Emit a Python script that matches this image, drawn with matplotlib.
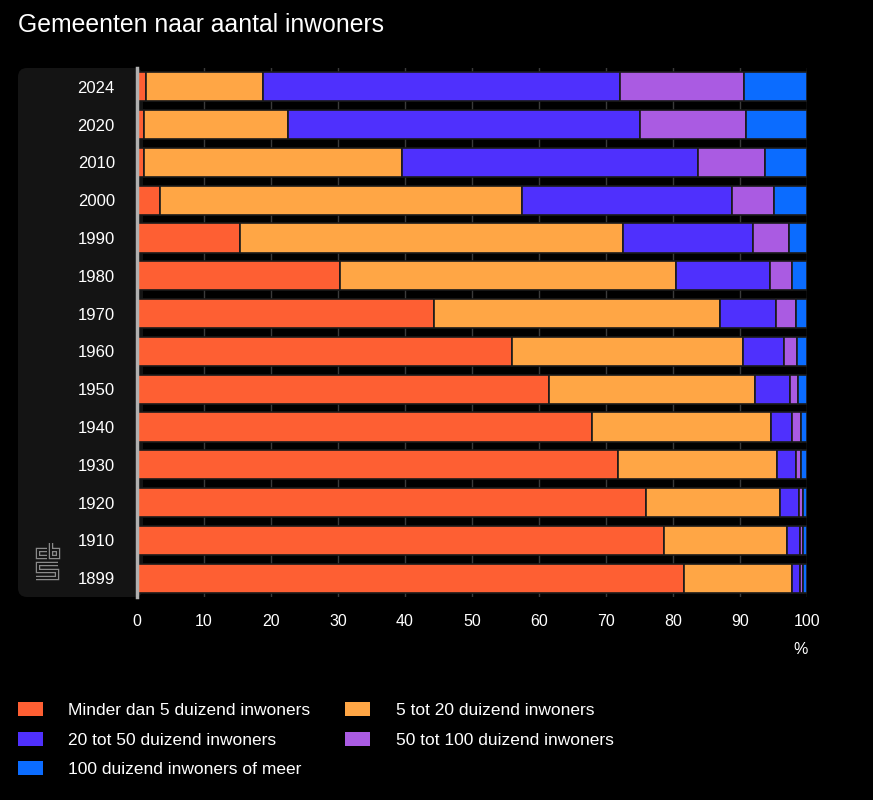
import matplotlib.pyplot as plt
from matplotlib.patches import FancyBboxPatch, Patch
import numpy as np

plt.rcParams["font.family"] = ["Liberation Sans", "DejaVu Sans"]

years = ["2024", "2020", "2010", "2000", "1990", "1980", "1970",
         "1960", "1950", "1940", "1930", "1920", "1910", "1899"]

# shares in percent, per size class
minder_5 = [1.3, 1.0, 1.0, 3.4, 15.4, 30.3, 44.3, 56.0, 61.5, 67.9, 71.8, 76.0, 78.6, 81.6]
tot_20 = [17.5, 21.5, 38.6, 54.1, 57.1, 50.1, 42.7, 34.4, 30.7, 26.7, 23.7, 19.9, 18.4, 16.1]
tot_50 = [53.3, 52.6, 44.2, 31.3, 19.5, 14.1, 8.4, 6.2, 5.3, 3.2, 2.8, 2.9, 2.0, 1.3]
tot_100 = [18.5, 15.8, 10.0, 6.3, 5.3, 3.3, 3.0, 1.9, 1.2, 1.3, 0.8, 0.6, 0.4, 0.4]
meer_100 = [9.4, 9.1, 6.2, 4.9, 2.7, 2.2, 1.6, 1.5, 1.3, 0.9, 0.9, 0.6, 0.6, 0.6]

series = [
    ("Minder dan 5 duizend inwoners", minder_5, "#fe5f33"),
    ("5 tot 20 duizend inwoners", tot_20, "#ffa645"),
    ("20 tot 50 duizend inwoners", tot_50, "#4f30fd"),
    ("50 tot 100 duizend inwoners", tot_100, "#aa5be2"),
    ("100 duizend inwoners of meer", meer_100, "#0b6cff"),
]

W, H = 873, 800
fig = plt.figure(figsize=(W / 100, H / 100), dpi=100, facecolor="black")

# background layer: rounded panel behind the year labels + logo
bg = fig.add_axes([0, 0, 1, 1], zorder=0)
bg.set_xlim(0, W)
bg.set_ylim(H, 0)
bg.axis("off")
bg.add_patch(FancyBboxPatch((18, 68), 125, 529, boxstyle="round,pad=0,rounding_size=9",
                            facecolor="#141414", edgecolor="none"))

# cbs logo, rough outline drawing
logo = [
    [(47, 549.5), (37.5, 549.5), (37.5, 557), (47, 557)],
    [(50.5, 543), (50.5, 557), (57.5, 557), (57.5, 549.5), (50.5, 549.5)],
    [(58, 564), (37.5, 564), (37.5, 571), (57, 571), (57, 578), (36, 578)],
]
for pts in logo:
    xs = [p[0] for p in pts]
    ys = [p[1] for p in pts]
    bg.plot(xs, ys, color="#8a8a8a", linewidth=3.2, solid_joinstyle="miter",
            solid_capstyle="butt")
    bg.plot(xs, ys, color="#141414", linewidth=1.4, solid_joinstyle="miter",
            solid_capstyle="butt")

ax = fig.add_axes([137 / W, 1 - 597 / H, 670 / W, 529 / H], zorder=1)
ax.patch.set_visible(False)

y = np.arange(len(years))
left = np.zeros(len(years))
for label, vals, color in series:
    vals = np.array(vals)
    ax.barh(y, vals, left=left, height=0.77, color=color, edgecolor="#1a1a1a",
            linewidth=1.2, zorder=2)
    left += vals

ax.set_xlim(0, 100)
ax.set_ylim(len(years) - 0.5, -0.5)
ax.set_yticks(y)
ax.set_yticklabels(years)
ax.set_xticks(np.arange(0, 101, 10))
ax.tick_params(axis="y", length=0, pad=16, labelcolor="white", labelsize=12)
ax.tick_params(axis="x", length=0, pad=12, labelcolor="white", labelsize=11.5)
ax.grid(axis="x", color="#3a3a3a", linewidth=1, zorder=0)
for s in ["top", "right", "bottom"]:
    ax.spines[s].set_visible(False)
ax.spines["left"].set_color("#b0b0b0")
ax.spines["left"].set_linewidth(2.5)
ax.spines["left"].set_zorder(3)

fig.text(801 / W, 1 - 650 / H, "%", color="white", fontsize=11.5,
         ha="center", va="center")
fig.text(18 / W, 1 - 25 / H, "Gemeenten naar aantal inwoners", color="white",
         fontsize=17.8, ha="left", va="center")

# legend filled row by row like the original
handles = [Patch(facecolor=c, edgecolor="none", label=l) for l, _, c in series]
order = [0, 2, 4, 1, 3]
leg = fig.legend([handles[i] for i in order], [handles[i].get_label() for i in order],
                 loc="upper left", bbox_to_anchor=(18 / W, 1 - 702 / H),
                 ncol=2, frameon=False, fontsize=12.5, labelcolor="white",
                 handlelength=1.45, handleheight=0.87, columnspacing=2.0,
                 handletextpad=1.45, labelspacing=0.78, borderpad=0,
                 borderaxespad=0)

fig.savefig("out.png", dpi=100, facecolor="black")
